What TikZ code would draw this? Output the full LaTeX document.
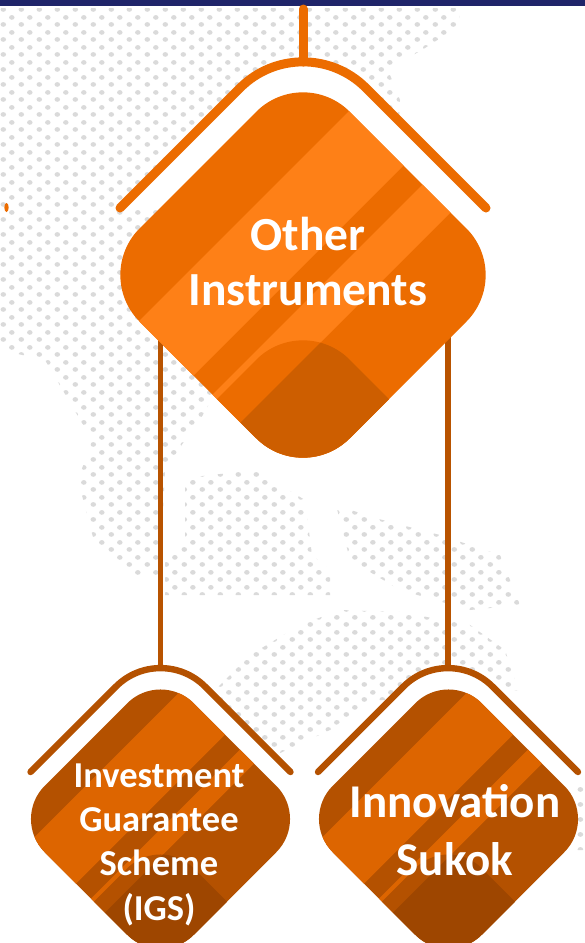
\documentclass[tikz,border=0pt]{standalone}
\usepackage{fontspec}
\setmainfont{Carlito}
\usetikzlibrary{patterns}
\definecolor{navy}{HTML}{1F2469}
\definecolor{mainDark}{HTML}{EC6C00}
\definecolor{mainLight}{HTML}{FE8017}
\definecolor{mainDeep}{HTML}{CD5E00}
\definecolor{subDark}{HTML}{B45100}
\definecolor{subLight}{HTML}{DD6500}
\definecolor{subDeep}{HTML}{9E4600}
\definecolor{connCol}{HTML}{B85300}
\definecolor{dotgray}{HTML}{DADADA}

\pgfdeclarepatternformonly{mapdots}{\pgfqpoint{0pt}{0pt}}{\pgfqpoint{18pt}{15pt}}{\pgfqpoint{18pt}{15pt}}{%
  \pgfpathellipse{\pgfqpoint{4.5pt}{3.75pt}}{\pgfqpoint{2.9pt}{0pt}}{\pgfqpoint{0pt}{2.5pt}}%
  \pgfpathellipse{\pgfqpoint{13.5pt}{11.25pt}}{\pgfqpoint{2.9pt}{0pt}}{\pgfqpoint{0pt}{2.5pt}}%
  \pgfusepath{fill}}

% rounded diamond: cx, cy, half-diagonal, corner radius
\newcommand\RD[4]{[rounded corners=#4pt] ({#1+#3/2},{#2-#3/2}) -- ({#1+#3},{#2}) -- ({#1},{#2+#3}) -- ({#1-#3},{#2}) -- ({#1},{#2-#3}) -- cycle}
% diagonal band  a <= (x-cx)+(y-cy) <= b
\newcommand\BAND[4]{({#1+#3/2+400},{#2+#3/2-400}) -- ({#1+#3/2-400},{#2+#3/2+400}) -- ({#1+#4/2-400},{#2+#4/2+400}) -- ({#1+#4/2+400},{#2+#4/2-400}) -- cycle}
% rounded chevron: cx, vertex y, arm extent, radius
\newcommand\CHEV[4]{({#1-#3},{#2+#3}) -- ({#1-0.70711*#4},{#2+0.70711*#4}) .. controls ({#1-0.31659*#4},{#2+0.31659*#4}) and ({#1+0.31659*#4},{#2+0.31659*#4}) .. ({#1+0.70711*#4},{#2+0.70711*#4}) -- ({#1+#3},{#2+#3})}
% striped diamond: cx cy D r a1 b1 a2 b2 bumpdy
\newcommand\UNIT[9]{%
  \begin{scope}
    \clip \RD{#1}{#2}{#3}{#4};
    \fill[udark] ({#1-#3},{#2-#3}) rectangle ({#1+#3},{#2+#3});
    \fill[ulight] \BAND{#1}{#2}{#5}{#6};
    \fill[ulight] \BAND{#1}{#2}{#7}{#8};
    \clip \RD{#1}{#2+#9}{#3}{#4};
    \fill[udark] ({#1-#3},{#2-#3}) rectangle ({#1+#3},{#2+#3});
    \fill[udeep] \BAND{#1}{#2}{#8}{2000};
  \end{scope}}

\tikzset{
  dots/.style={pattern=mapdots, pattern color=dotgray},
  mainline/.style={draw=mainDark, line width=9pt, line cap=round},
  subline/.style={draw=subDark, line width=6.4pt, line cap=round},
  conn/.style={draw=connCol, line width=5.5pt},
  txt/.style={text=white, align=center, inner sep=0pt, anchor=base},
  mainunit/.style={udark/.style={fill=mainDark}, ulight/.style={fill=mainLight}, udeep/.style={fill=mainDeep}},
  subunit/.style={udark/.style={fill=subDark}, ulight/.style={fill=subLight}, udeep/.style={fill=subDeep}}
}

\begin{document}
\begin{tikzpicture}[x=1pt, y=-1pt]
\useasboundingbox (0,0) rectangle (585,943);
\fill[white] (0,0) rectangle (585,943);

% dotted world-map background
\fill[dots] (0,8) -- (462,8) -- (456,28) -- (425,48) -- (388,70) -- (400,100) -- (398,148) -- (330,200) -- (250,330) -- (200,420) -- (185,440) -- (165,470) -- (160,575) -- (130,575) -- (95,545) -- (78,480) -- (92,440) -- (45,360) -- (0,350) -- cycle;
\fill[dots] (185,478) -- (255,470) -- (305,500) -- (312,555) -- (330,570) -- (330,595) -- (165,595) -- (165,560) -- (185,545) -- cycle;
\fill[dots] (336,505) -- (375,518) -- (440,535) -- (500,555) -- (520,605) -- (470,610) -- (400,590) -- (350,560) -- cycle;
\fill[dots] (205,700) -- (250,655) -- (300,625) -- (340,610) -- (400,612) -- (470,625) -- (505,650) -- (518,690) -- (470,700) -- (370,700) -- (330,730) -- (265,760) -- (220,755) -- cycle;
\fill[dots] (574,780) -- (585,780) -- (585,850) -- (576,850) -- cycle;

% top bar and small mark
\fill[navy] (0,0) rectangle (585,6);
\fill[mainDark] (6.5,207.5) ellipse [x radius=2.2pt, y radius=4.5pt];

% named points
\coordinate (topstart) at (303,9);
\coordinate (mainapex) at (303,62);
\coordinate (mainL) at (160.5,330);
\coordinate (mainR) at (448,330);
\coordinate (igsapex) at (160.5,668);
\coordinate (sukapex) at (448,668);

% connectors
\draw[conn] (mainL) -- (igsapex);
\draw[conn] (mainR) -- (sukapex);

% white halos under chevrons
\fill[white] \CHEV{303}{25}{183}{89} -- cycle;
\fill[white] \CHEV{160.5}{642}{130}{63} -- cycle;
\fill[white] \CHEV{448}{642}{130}{63} -- cycle;

% chevrons
\draw[mainline] \CHEV{303}{25}{183}{89};
\draw[subline] \CHEV{160.5}{642}{130}{63};
\draw[subline] \CHEV{448}{642}{130}{63};
\draw[mainline] (topstart) -- (mainapex);

% diamonds
\begin{scope}[mainunit]
  \UNIT{303}{275}{210}{66}{-118}{-9}{29}{85}{248}
\end{scope}
\begin{scope}[subunit]
  \UNIT{160.5}{819}{149}{47}{-108}{-20}{10}{38}{165}
  \UNIT{448.5}{819}{149}{47}{-108}{-20}{10}{38}{165}
\end{scope}

% texts (base anchor = baseline of the last line)
\node[txt, font=\fontsize{47.5}{55}\selectfont\bfseries] (other) at (308,305) {Other\\Instruments};
\node[txt, font=\fontsize{36.5}{44.3}\selectfont\bfseries] (igs) at (159,920) {Investment\\Guarantee\\Scheme\\(IGS)};
\node[txt, font=\fontsize{47}{58}\selectfont\bfseries] (sukok) at (455,875) {Innovation\\Sukok};
\end{tikzpicture}
\end{document}
